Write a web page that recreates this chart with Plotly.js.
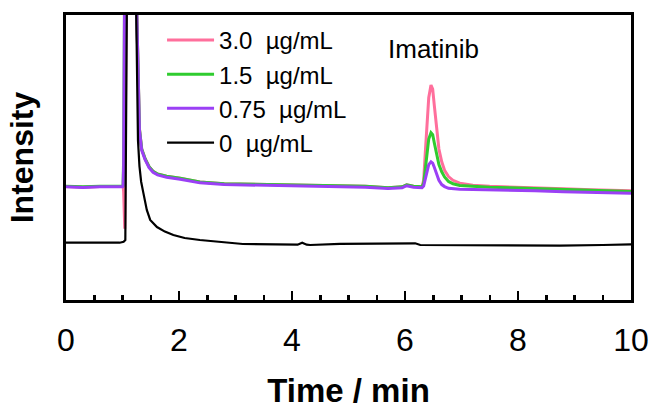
<!DOCTYPE html>
<html>
<head>
<meta charset="utf-8">
<script src="https://cdn.plot.ly/plotly-3.0.1.min.js"></script>
<style>html,body{margin:0;padding:0;background:#fff;}#chart{width:651px;height:409px;}</style>
</head>
<body>
<div id="chart"></div>
<script>
// Time axis (min) shared by the spiked samples
const tSample = [0, 0.3, 0.6, 0.9, 1.0, 1.01, 1.02, 1.04, 1.08, 1.15, 1.25, 1.28, 1.3, 1.34, 1.4, 1.47, 1.54, 1.62, 1.78, 2.02, 2.37, 2.8, 3.26, 3.8, 4.3, 4.8, 5.3, 5.7, 5.95, 6.03, 6.15, 6.3, 6.33, 6.36, 6.39, 6.42, 6.46, 6.49, 6.52, 6.56, 6.6, 6.65, 6.7, 6.77, 6.85, 6.97, 7.2, 7.5, 7.86, 8.3, 8.8, 9.3, 9.7, 10];
const pink3_0 = [39.8, 39.6, 39.8, 39.7, 39.8, 40.0, 38.0, 25.0, 150, 400, 103, 72, 60, 53, 49.6, 46.8, 45.2, 44.2, 43.4, 42.7, 41.4, 40.8, 40.6, 40.5, 40.2, 40.0, 39.9, 39.4, 39.7, 40.4, 39.9, 39.7, 42.0, 52.0, 63.0, 71.0, 75.4, 74.0, 68.0, 60.0, 53.0, 48.5, 45.5, 43.3, 42.0, 41.0, 40.3, 39.9, 39.6, 39.3, 39.0, 38.7, 38.5, 38.3];
const green1_5 = [39.9, 39.7, 39.9, 39.8, 39.9, 40.2, 50.0, 120, 150, 400, 103, 72, 60, 53, 49.6, 46.8, 45.2, 44.2, 43.4, 42.7, 41.4, 40.8, 40.6, 40.5, 40.2, 40.0, 39.9, 39.4, 39.7, 40.4, 39.9, 39.7, 41.0, 46.0, 52.0, 56.5, 58.7, 58.0, 55.0, 51.0, 47.5, 45.0, 43.2, 41.6, 40.8, 40.2, 39.9, 39.6, 39.4, 39.1, 38.8, 38.5, 38.3, 38.1];
const purple0_75 = [39.7, 39.5, 39.7, 39.6, 39.7, 40.0, 47.0, 120, 150, 400, 103, 71, 59.5, 52.5, 49.2, 46.4, 44.8, 43.9, 43.1, 42.4, 41.1, 40.5, 40.3, 40.2, 39.9, 39.7, 39.6, 39.1, 39.4, 40.1, 39.6, 39.4, 40.0, 42.5, 45.5, 47.5, 48.5, 48.0, 46.5, 44.0, 42.0, 40.5, 39.8, 39.2, 39.0, 38.9, 38.8, 38.7, 38.6, 38.3, 38.0, 37.8, 37.6, 37.5];
// Blank sample
const tBlank = [0, 0.5, 0.95, 1.02, 1.05, 1.08, 1.16, 1.24, 1.274, 1.3, 1.33, 1.37, 1.43, 1.49, 1.61, 1.75, 1.9, 2.1, 2.37, 3.13, 4.02, 4.1, 4.18, 4.26, 4.32, 4.85, 5.5, 6.18, 6.27, 7.5, 8.74, 9.5, 10];
const black0 = [20.1, 20.2, 20.1, 20.4, 21.0, 110, 400, 105, 56.0, 47.0, 41.5, 37.5, 31.6, 28.1, 25.6, 24.0, 22.8, 21.75, 21.05, 19.65, 19.3, 19.4, 20.1, 19.4, 19.3, 19.7, 19.8, 19.9, 19.3, 19.1, 19.05, 19.3, 19.5];

const seriesNames = ['3.0\u00a0 \u00b5g/mL', '1.5\u00a0 \u00b5g/mL', '0.75\u00a0 \u00b5g/mL', '0\u00a0 \u00b5g/mL'];
const seriesColors = ['#ff6f9c', '#2fcc2f', '#9b40f5', '#000000'];
const xTickVals = [0, 2, 4, 6, 8, 10];
const peakLabel = 'Imatinib';

const mk = (x, y, i, w) => ({x: x, y: y, type: 'scatter', mode: 'lines', name: seriesNames[i],
  line: {color: seriesColors[i], width: w}});
const data = [
  mk(tSample, pink3_0, 0, 3),
  mk(tSample, green1_5, 1, 3),
  mk(tSample, purple0_75, 2, 3),
  mk(tBlank, black0, 3, 2.2)
];
const layout = {
  width: 651, height: 409,
  margin: {l: 66, r: 20, t: 15, b: 109},
  paper_bgcolor: '#fff', plot_bgcolor: '#fff',
  font: {family: 'Arial, "Liberation Sans", sans-serif', color: '#000'},
  showlegend: true,
  legend: {x: 0.17, y: 0.99, xanchor: 'left', yanchor: 'top', bgcolor: 'rgba(0,0,0,0)',
    font: {size: 24, color: '#000'}, itemwidth: 47, tracegroupgap: 0},
  xaxis: {range: [0, 10], tickvals: xTickVals, ticktext: xTickVals.map(String),
    ticks: 'inside', ticklen: 9, tickwidth: 2.5, tickcolor: '#000',
    minor: {dtick: 0.5, ticks: 'inside', ticklen: 5, tickwidth: 2.5, tickcolor: '#000'},
    showline: true, linewidth: 3, linecolor: '#000', mirror: true,
    showgrid: false, zeroline: false, tickfont: {size: 32}, ticklabelstandoff: 10,
    title: {text: '<b>Time / min</b>', font: {size: 33}, standoff: 22}},
  yaxis: {range: [0, 100], showticklabels: false, ticks: '',
    showline: true, linewidth: 3, linecolor: '#000', mirror: true,
    showgrid: false, zeroline: false,
    title: {text: '<b>Intensity</b>', font: {size: 32}, standoff: 20}},
  annotations: [{x: 6.5, xref: 'x', y: 0.881, yref: 'paper', text: peakLabel,
    showarrow: false, font: {size: 26, color: '#000'}, xanchor: 'center', yanchor: 'middle'}]
};
Plotly.newPlot('chart', data, layout, {staticPlot: true, displayModeBar: false});
</script>
</body>
</html>
